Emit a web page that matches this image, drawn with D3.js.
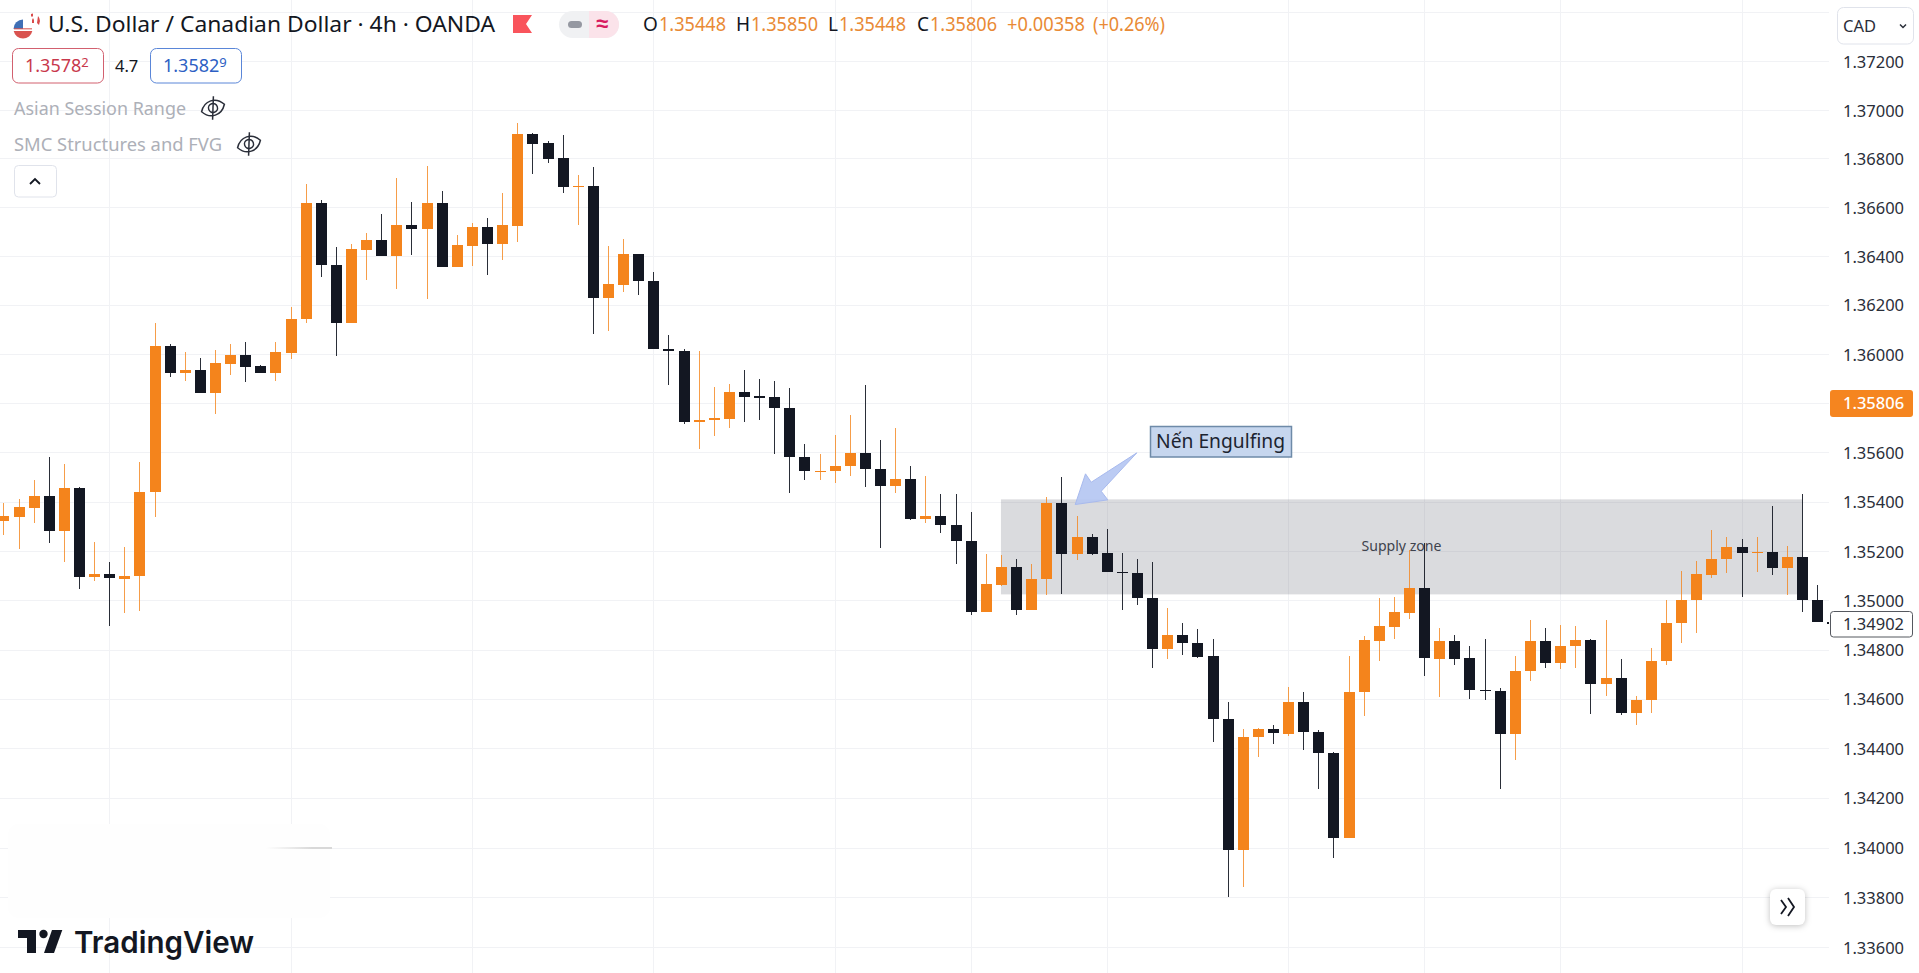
<!DOCTYPE html>
<html>
<head>
<meta charset="utf-8">
<title>USD/CAD 4h</title>
<script src="https://cdn.jsdelivr.net/npm/d3@7/dist/d3.min.js"></script>
<style>
html,body{margin:0;padding:0;background:#fff;overflow:hidden}
svg{display:block;font-family:"Noto Sans",sans-serif}
</style>
</head>
<body>
<svg id="chart" width="1919" height="973"></svg>
<script>
const opens=[1.35331,1.35350,1.35386,1.35435,1.35290,1.35467,1.35103,1.35117,1.35098,1.35107,
1.35449,1.36043,1.35932,1.35946,1.35851,1.35971,1.36007,1.35962,1.35932,1.36016,
1.36152,1.36624,1.36372,1.36135,1.36434,1.36474,1.36410,1.36535,1.36520,1.36624,
1.36363,1.36451,1.36527,1.36459,1.36532,1.36904,1.36868,1.36807,1.36689,1.36693,
1.36239,1.36292,1.36417,1.36307,1.36031,1.36024,1.35733,1.35741,1.35748,1.35856,
1.35839,1.35836,1.35791,1.35592,1.35534,1.35534,1.35554,1.35608,1.35543,1.35473,
1.35503,1.35341,1.35352,1.35316,1.35252,1.34961,1.35072,1.35145,1.34969,1.35095,
1.35406,1.35197,1.35267,1.35202,1.35125,1.35121,1.35019,1.34811,1.34869,1.34836,
1.34785,1.34529,1.33994,1.34453,1.34487,1.34468,1.34598,1.34476,1.34391,1.34043,
1.34636,1.34846,1.34903,1.34959,1.35060,1.34773,1.34846,1.34777,1.34645,1.34643,
1.34465,1.34721,1.34845,1.34754,1.34823,1.34850,1.34669,1.34694,1.34551,1.34604,
1.34762,1.34916,1.35010,1.35114,1.35176,1.35226,1.35202,1.35206,1.35140,1.35186,
1.35011,1.34920];
const highs=[1.35406,1.35421,1.35499,1.35593,1.35564,1.35471,1.35248,1.35165,1.35226,1.35572,
1.36135,1.36051,1.36018,1.35994,1.36027,1.36051,1.36059,1.35967,1.36059,1.36203,
1.36701,1.36636,1.36445,1.36456,1.36502,1.36579,1.36726,1.36628,1.36774,1.36673,
1.36493,1.36542,1.36563,1.36665,1.36949,1.36909,1.36876,1.36900,1.36738,1.36770,
1.36449,1.36478,1.36417,1.36344,1.36088,1.36030,1.36023,1.35877,1.35888,1.35946,
1.35910,1.35901,1.35872,1.35645,1.35604,1.35681,1.35763,1.35885,1.35661,1.35710,
1.35556,1.35515,1.35442,1.35442,1.35369,1.35198,1.35194,1.35176,1.35157,1.35430,
1.35511,1.35352,1.35279,1.35301,1.35202,1.35178,1.35165,1.34979,1.34919,1.34894,
1.34854,1.34598,1.34487,1.34492,1.34504,1.34659,1.34638,1.34483,1.34395,1.34785,
1.34865,1.35020,1.35023,1.35214,1.35241,1.34897,1.34870,1.34824,1.34854,1.34652,
1.34785,1.34931,1.34898,1.34911,1.34907,1.34854,1.34931,1.34773,1.34622,1.34816,
1.35011,1.35130,1.35170,1.35295,1.35267,1.35259,1.35267,1.35393,1.35230,1.35442,
1.35072,1.34925];
const lows=[1.35274,1.35220,1.35323,1.35244,1.35164,1.35054,1.35087,1.34904,1.34957,1.34965,
1.35350,1.35918,1.35902,1.35851,1.35768,1.35926,1.35898,1.35932,1.35902,1.35989,
1.36135,1.36325,1.36004,1.36135,1.36312,1.36410,1.36276,1.36414,1.36235,1.36363,
1.36363,1.36369,1.36333,1.36394,1.36467,1.36743,1.36788,1.36666,1.36535,1.36093,
1.36105,1.36264,1.36252,1.36030,1.35886,1.35727,1.35623,1.35679,1.35711,1.35736,
1.35744,1.35606,1.35447,1.35500,1.35500,1.35488,1.35516,1.35471,1.35224,1.35445,
1.35335,1.35323,1.35282,1.35159,1.34949,1.34961,1.35068,1.34951,1.34969,1.35030,
1.35037,1.35174,1.35194,1.35124,1.34969,1.34990,1.34734,1.34770,1.34786,1.34777,
1.34433,1.33803,1.33844,1.34372,1.34427,1.34458,1.34403,1.34244,1.33961,1.34043,
1.34539,1.34762,1.34851,1.34933,1.34701,1.34618,1.34748,1.34610,1.34604,1.34244,
1.34360,1.34681,1.34734,1.34730,1.34736,1.34549,1.34622,1.34543,1.34502,1.34551,
1.34748,1.34835,1.34876,1.35102,1.35122,1.35025,1.35126,1.35114,1.35033,1.34964,
1.34920,1.34905];
const closes=[1.35352,1.35389,1.35435,1.35290,1.35467,1.35103,1.35117,1.35099,1.35109,1.35451,
1.36043,1.35932,1.35946,1.35851,1.35974,1.36007,1.35959,1.35932,1.36019,1.36153,
1.36624,1.36371,1.36135,1.36437,1.36474,1.36410,1.36535,1.36520,1.36624,1.36363,
1.36453,1.36527,1.36459,1.36535,1.36904,1.36865,1.36804,1.36690,1.36693,1.36239,
1.36295,1.36417,1.36306,1.36030,1.36022,1.35733,1.35743,1.35751,1.35856,1.35837,
1.35833,1.35790,1.35591,1.35534,1.35536,1.35556,1.35608,1.35542,1.35473,1.35503,
1.35341,1.35352,1.35315,1.35250,1.34961,1.35076,1.35145,1.34969,1.35096,1.35406,
1.35197,1.35267,1.35199,1.35124,1.35121,1.35018,1.34811,1.34869,1.34836,1.34781,
1.34526,1.33994,1.34456,1.34488,1.34469,1.34598,1.34473,1.34388,1.34043,1.34638,
1.34849,1.34905,1.34962,1.35060,1.34774,1.34846,1.34773,1.34644,1.34640,1.34465,
1.34724,1.34845,1.34754,1.34824,1.34849,1.34669,1.34694,1.34551,1.34606,1.34764,
1.34919,1.35011,1.35117,1.35178,1.35226,1.35201,1.35206,1.35140,1.35186,1.35010,
1.34920,1.34912];

const priceTicks=[1.372,1.370,1.368,1.366,1.364,1.362,1.360,1.358,1.356,1.354,1.352,1.350,1.348,1.346,1.344,1.342,1.340,1.338,1.336];
const extraGridPrices=[1.374];
const timeGridBars=[7,19,31,43,55,64,73,85,94,103,115];
const supplyZone={fromBar:66,toBar:119,top:1.35420,bottom:1.35034,label:"Supply zone",labelBar:92.5,labelPrice:1.35210};
const arrowBar=71,arrowPrice=1.35399;
const lastLabelPrice=1.35806, markerPrice=1.34902;
const title="U.S. Dollar / Canadian Dollar · 4h · OANDA";
const ohlcLetters=["O","H","L","C"];
const ohlcValues=["1.35448","1.35850","1.35448","1.35806"];
const changeText="+0.00358", changePct="(+0.26%)";
const indicators=["Asian Session Range","SMC Structures and FVG"];

const UP="#f4841c",DOWN="#131722",GRID="#f1f2f5";
const W=1919,H=973,AXIS_X=1829;
const x=d3.scaleLinear().domain([0,120]).range([3.4,1817.1]);
const y=d3.scaleLinear().domain([1.372,1.336]).range([61.3,947.3]);
// the screenshot's price axis is very slightly uneven, so ticks follow their measured rows
const axisRows=[12.3,61.3,110.3,158.3,207.3,256.3,305,354.3,403.3,452.5,502,551.3,600.3,650,699,748.7,798,848,897.5,947.3];
const yAxis=d3.scaleLinear().domain(extraGridPrices.concat(priceTicks)).range(axisRows);
const svg=d3.select("#chart");
svg.append("rect").attr("width",W).attr("height",H).attr("fill","#fff");
svg.append("defs").append("clipPath").attr("id","pane").append("rect").attr("width",AXIS_X).attr("height",H);

// grid
const grid=svg.append("g").attr("shape-rendering","crispEdges");
grid.selectAll(".gy").data(priceTicks.concat(extraGridPrices)).join("line")
  .attr("x1",0).attr("x2",AXIS_X).attr("y1",d=>Math.floor(yAxis(d))+.5).attr("y2",d=>Math.floor(yAxis(d))+.5).attr("stroke",GRID);
grid.selectAll(".gx").data(timeGridBars).join("line")
  .attr("x1",d=>Math.round(x(d))+.5).attr("x2",d=>Math.round(x(d))+.5).attr("y1",0).attr("y2",H).attr("stroke",GRID);

// blanked patch above the logo
const smudgeGrad=svg.select("defs").append("linearGradient").attr("id","sm");
smudgeGrad.append("stop").attr("offset","0").attr("stop-color","#dcdcdc").attr("stop-opacity",0);
smudgeGrad.append("stop").attr("offset","0.7").attr("stop-color","#d8d8d8").attr("stop-opacity",1);
smudgeGrad.append("stop").attr("offset","1").attr("stop-color","#d8d8d8").attr("stop-opacity",1);
svg.append("rect").attr("x",8).attr("y",824).attr("width",322).attr("height",94).attr("rx",10).attr("fill","#fefefe");
svg.append("rect").attr("x",266).attr("y",847).attr("width",66).attr("height",2).attr("fill","url(#sm)");

// zone
svg.append("rect").attr("x",x(supplyZone.fromBar)).attr("width",x(supplyZone.toBar)-x(supplyZone.fromBar))
  .attr("y",y(supplyZone.top)).attr("height",y(supplyZone.bottom)-y(supplyZone.top))
  .attr("fill","#787b86").attr("fill-opacity",.27);

// candles
const bars=d3.range(opens.length).map(i=>({i,o:opens[i],h:highs[i],l:lows[i],c:closes[i]}));
const pane=svg.append("g").attr("clip-path","url(#pane)").attr("shape-rendering","crispEdges");
const cg=pane.selectAll("g").data(bars).join("g");
cg.append("rect").attr("x",d=>Math.round(x(d.i))).attr("width",1)
  .attr("y",d=>Math.round(y(d.h))).attr("height",d=>Math.max(1,Math.round(y(d.l))-Math.round(y(d.h))))
  .attr("fill",d=>d.c>=d.o?UP:DOWN).attr("fill-opacity",d=>d.c>=d.o?.8:.9);
cg.append("rect").attr("x",d=>Math.round(x(d.i))-5).attr("width",11)
  .attr("y",d=>Math.round(y(Math.max(d.o,d.c))))
  .attr("height",d=>Math.max(1,Math.round(y(Math.min(d.o,d.c)))-Math.round(y(Math.max(d.o,d.c)))))
  .attr("fill",d=>d.c>=d.o?UP:DOWN);

// supply zone label
svg.append("text").attr("x",x(supplyZone.labelBar)).attr("y",y(supplyZone.labelPrice))
  .attr("text-anchor","middle").attr("font-size",14).attr("fill","#3f434d")
  .attr("textLength",80).attr("lengthAdjust","spacingAndGlyphs").text(supplyZone.label);

// callout arrow + box
const tipX=x(arrowBar)-1.3,tipY=y(arrowPrice);
const arrowOffsets=[[0,0],[10.3,-30.7],[16,-22.3],[61.6,-51.7],[26,-13.3],[32.6,-4.7]];
svg.append("path").attr("d",d3.line()(arrowOffsets.map(o=>[tipX+o[0],tipY+o[1]]))+"Z")
  .attr("fill","#b4c5f2").attr("fill-opacity",.9).attr("stroke","#a8baee").attr("stroke-width",1);
svg.append("rect").attr("x",1150.5).attr("y",426.5).attr("width",141).attr("height",30.5)
  .attr("fill","#c6d6ee").attr("stroke","#6e8aa8").attr("stroke-width",1.5);
svg.append("text").attr("x",1156).attr("y",448).attr("font-size",19).attr("fill","#1c2430")
  .attr("textLength",129).attr("lengthAdjust","spacingAndGlyphs").text("Nến Engulfing");

// price axis
const axis=d3.axisRight(yAxis).tickValues(priceTicks).tickSize(0).tickPadding(0).tickFormat(d3.format(".5f"));
const ag=svg.append("g").attr("transform","translate(1843,0)").call(axis);
ag.select(".domain").remove();
ag.selectAll("text").attr("font-family",'"Noto Sans",sans-serif').attr("font-size",16.5).attr("fill","#2a2e39").attr("x",0).attr("dy","0.36em");

// axis labels
svg.append("rect").attr("x",1830).attr("y",y(lastLabelPrice)-14.5).attr("width",83).attr("height",27).attr("rx",3).attr("fill","#f5851f");
svg.append("text").attr("x",1843).attr("y",y(lastLabelPrice)+5).attr("font-size",16.5).attr("font-weight",500).attr("fill","#fff").text(lastLabelPrice.toFixed(5));
svg.append("rect").attr("x",1830.5).attr("y",611.5).attr("width",82).attr("height",25.5).attr("rx",3).attr("fill","#fff").attr("stroke","#55585f");
svg.append("text").attr("x",1843).attr("y",630).attr("font-size",16.5).attr("fill","#2a2e39").text(markerPrice.toFixed(5));

// helpers
function txt(px,py,s,size,fill,w,weight){
  const t=svg.append("text").attr("x",px).attr("y",py).attr("font-size",size).attr("fill",fill).text(s);
  if(w)t.attr("textLength",w).attr("lengthAdjust","spacingAndGlyphs");
  if(weight)t.attr("font-weight",weight);
  return t;
}
function eyeOff(cx,cy){
  const g=svg.append("g").attr("transform",`translate(${cx},${cy}) rotate(-18)`).attr("fill","none").attr("stroke","#2a2e39").attr("stroke-width",1.5);
  g.append("path").attr("d","M-12,0C-6,-10 6,-10 12,0C6,10 -6,10 -12,0Z");
  g.append("circle").attr("r",4.5);
  g.append("line").attr("x1",-4).attr("y1",11).attr("x2",4).attr("y2",-11);
}

// flag icon
const f=svg.append("g");
f.append("circle").attr("cx",33).attr("cy",21).attr("r",7.5).attr("fill","#fff");
f.append("path").attr("d","M31,14a7.5,7.5 0 0 1 2,-0.5v3h-2ZM38,16a7.5,7.5 0 0 1 2,5l-1,4l-2,-2Z").attr("fill","#d94b4b");
f.append("path").attr("d","M32,18l1,2l1,-2l0,5h-2Z").attr("fill","#d94b4b");
f.append("circle").attr("cx",23).attr("cy",29).attr("r",9.5).attr("fill","#fff");
f.append("path").attr("d","M13.7,31h18.6a9.5,9.5 0 0 1 -18.6,0Z").attr("fill","#d9534f");
f.append("path").attr("d","M23,19.5a9.5,9.5 0 0 0 -9.5,9.5h9.5Z").attr("fill","#3f6fb5");
f.append("path").attr("d","M14,28h18v1.5h-18Z").attr("fill","#d9534f").attr("fill-opacity",.7);

// title
txt(48,32,title,22,"#131722",447);
svg.append("path").attr("d","M513,15H532L526,24L532,33H513Z").attr("fill","#f9545c");

// pill
svg.append("rect").attr("x",559).attr("y",11).attr("width",60).attr("height",27).attr("rx",13.5).attr("fill","#f0f1f3");
svg.append("path").attr("d","M589,11H605.5A13.5,13.5 0 0 1 605.5,38H589Z").attr("fill","#fbe3ea");
svg.append("rect").attr("x",568).attr("y",21).attr("width",14).attr("height",7).attr("rx",3.5).attr("fill","#9598a1");
txt(596,31,"≈",22,"#d81b60",null,700);

// OHLC
const letterX=[643,736,828,917],valueX=[659,751,839,930];
ohlcLetters.forEach((l,i)=>{
  txt(letterX[i],31,l,19,"#131722");
  txt(valueX[i],31,ohlcValues[i],19,"#e98a35",67);
});
txt(1007,31,changeText,19,"#e98a35",78);
txt(1093,31,changePct,19,"#e98a35",72);

// bid / ask
function quote(bx,color,border,main,sup){
  svg.append("rect").attr("x",bx+.5).attr("y",48.5).attr("width",91).attr("height",34.5).attr("rx",6).attr("fill","#fff").attr("stroke",border);
  const t=svg.append("text").attr("x",bx+13).attr("y",72).attr("font-size",18).attr("fill",color);
  t.append("tspan").text(main);
  t.append("tspan").attr("dy",-5).attr("font-size",13).text(sup);
}
quote(12,"#c8384c","#d2606f","1.3578","2");
quote(150,"#2d5fc4","#5a86d8","1.3582","9");
txt(115,72,"4.7",16.5,"#131722");

// indicators
txt(14,115,indicators[0],18.5,"#adb0b8",172);
eyeOff(213,108);
txt(14,151,indicators[1],18.5,"#adb0b8",208);
eyeOff(249,144);

// collapse button
svg.append("rect").attr("x",14.5).attr("y",165.5).attr("width",42).attr("height",31.5).attr("rx",4).attr("fill","#fff").attr("stroke","#e0e3eb");
svg.append("path").attr("d","M30,184L35,179L40,184").attr("fill","none").attr("stroke","#131722").attr("stroke-width",1.8);

// CAD button
svg.append("rect").attr("x",1837.5).attr("y",7.5).attr("width",76).attr("height",36.5).attr("rx",6).attr("fill","#fff").attr("stroke","#e0e3eb");
txt(1843,32,"CAD",16.5,"#2a2e39");
svg.append("path").attr("d","M1900,24.5L1903,27.5L1906,24.5").attr("fill","none").attr("stroke","#2a2e39").attr("stroke-width",1.5);

// scroll button
svg.append("rect").attr("x",1770).attr("y",889).attr("width",35).attr("height",36).attr("rx",6).attr("fill","#fff").style("filter","drop-shadow(0 1px 3px rgba(0,0,0,.25))");
svg.append("path").attr("d","M1781,900L1786,907L1781,914M1788,898L1794,907L1788,916").attr("fill","none").attr("stroke","#131722").attr("stroke-width",1.8);

// logo
const logo=svg.append("g").attr("fill","#131722");
logo.append("path").attr("d","M18,930H36V953H27V938H18Z");
logo.append("circle").attr("cx",43.5).attr("cy",934).attr("r",4.2);
logo.append("path").attr("d","M52,930H62.3L54,953H44Z");
txt(74,953,"TradingView",30,"#131722",180,600).attr("font-family","Inter,sans-serif");
</script>
</body>
</html>
